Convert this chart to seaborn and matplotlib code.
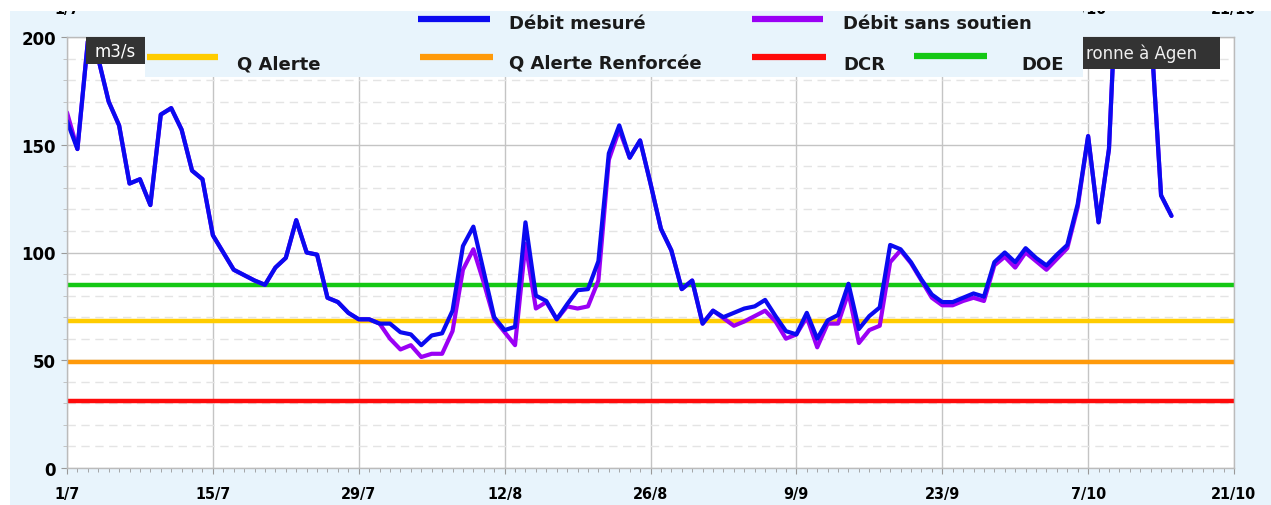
import numpy as np
import pandas as pd
import matplotlib
matplotlib.use("Agg")
import matplotlib.pyplot as plt
from matplotlib.patches import Rectangle
from matplotlib.lines import Line2D
from matplotlib.ticker import MultipleLocator
import matplotlib.dates as mdates
import seaborn as sns

# Débits journaliers de la Garonne à Agen (m3/s), du 1/7 au 15/10
debit_mesure = [161, 148, 198, 190, 170, 159, 132, 134, 122, 164,
                167, 157, 138, 134, 108, 100, 92, 89.5, 87, 85,
                93, 97.5, 115, 100, 99, 79, 77, 72, 69, 69,
                67, 67, 63, 62, 57, 61.5, 62.5, 73, 103, 112,
                91, 70, 64, 65.5, 114, 80, 77.5, 69, 76, 82.5,
                83, 96, 146, 159, 144, 152, 132, 111, 101, 83,
                87, 67, 73, 70, 72, 74, 75, 78, 70.5, 63.5,
                62, 72, 60, 68.5, 71, 85.5, 64.5, 70.5, 74.5, 103.5,
                101.5, 95.5, 87.5, 80.5, 77, 77, 79, 81, 79.5, 95.5,
                100, 95.5, 102, 97.5, 94, 99, 103.5, 122.5, 154, 114,
                148, 255, 270, 260, 205, 126.5, 117]

debit_sans_soutien = [165, 148, 198, 190, 170, 159, 132, 134, 122, 164,
                      167, 157, 138, 134, 108, 100, 92, 89.5, 87, 85,
                      93, 97.5, 115, 100, 99, 79, 77, 72, 69, 69,
                      67, 60, 55, 57, 51.5, 53, 53, 63.5, 92, 101.5,
                      86, 69, 63, 57, 104, 74, 77, 69, 75, 74,
                      75, 87, 143, 157, 144, 152, 132, 111, 101, 83,
                      87, 67, 73, 69.5, 66, 68, 70.5, 73, 68, 60,
                      62, 70, 56, 67, 67, 81.5, 58, 64, 66, 95.5,
                      101, 95, 87, 79, 75.5, 75.5, 77.5, 79, 77.5, 94,
                      98, 93, 100, 96, 92, 97, 102, 121, 154, 114,
                      148, 255, 270, 260, 205, 126.5, 117]

seuil_noms = ["DOE", "Q Alerte", "Q Alerte Renforcée", "DCR"]
seuil_valeurs = [85, 68, 49, 31]

tick_labels = ["1/7", "15/7", "29/7", "12/8", "26/8", "9/9", "23/9", "7/10", "21/10"]
y_ticks = [0, 50, 100, 150, 200]
# dates du haut qui dépassent de la légende (les autres sont cachées)
top_idx = [0, 7, 8]

# couleurs
BLEU = "#0a0af0"
VIOLET = "#9a00f5"
couleurs_seuils = {"DOE": "#14c814", "Q Alerte": "#ffcc00",
                   "Q Alerte Renforcée": "#ff9a0a", "DCR": "#ff0a0a"}
FOND = "#e8f4fc"

dates = pd.date_range("2022-07-01", periods=len(debit_mesure), freq="D")
df = pd.DataFrame({"date": dates, "mesure": debit_mesure, "sans": debit_sans_soutien})
tick_dates = pd.date_range("2022-07-01", "2022-10-21", freq="14D")

sns.set_style("white")
plt.rcParams["font.family"] = ["DejaVu Sans"]

W, H = 1271, 506
fig = plt.figure(figsize=(W / 100, H / 100), dpi=100)
fig.patch.set_facecolor("white")

# fond bleu clair du graphique
fig.add_artist(Rectangle((10 / W, 0), 1 - 10 / W, (H - 12) / H, transform=fig.transFigure,
                         facecolor=FOND, edgecolor="none", zorder=-5))

ax = fig.add_axes([67 / W, (H - 469) / H, (1234 - 67) / W, (469 - 38) / H])
ax.set_facecolor("white")
ax.set_axisbelow(True)

# seuils
for nom, val in zip(seuil_noms, seuil_valeurs):
    ax.axhline(val, color=couleurs_seuils[nom], lw=3.2, zorder=1.5)

# courbes de débit
sns.lineplot(data=df, x="date", y="sans", color=VIOLET, lw=3, ax=ax, zorder=2)
sns.lineplot(data=df, x="date", y="mesure", color=BLEU, lw=3, ax=ax, zorder=2.5)

ax.set_xlim(tick_dates[0], tick_dates[-1])
ax.set_ylim(0, 200)
ax.set_xlabel("")
ax.set_ylabel("")

ax.set_xticks(tick_dates)
ax.set_xticklabels(tick_labels, fontweight="bold", fontstretch="condensed", fontsize=11.5)
ax.xaxis.set_minor_locator(mdates.DayLocator())
ax.set_yticks(y_ticks)
ax.set_yticklabels([str(v) for v in y_ticks], fontweight="bold", fontsize=12)
ax.yaxis.set_minor_locator(MultipleLocator(10))

ax.grid(which="major", color="#c4c4c4", lw=1, ls="-")
ax.grid(which="minor", axis="y", color="#e4e4e4", lw=1, ls=(0, (6, 4)))

ax.tick_params(axis="x", which="major", bottom=True, top=False,
               length=4, color="#999999", pad=9, labelcolor="black")
ax.tick_params(axis="x", which="minor", bottom=True, top=False, length=3, color="#999999")
ax.tick_params(axis="y", which="major", left=True, length=4, color="#999999", pad=4,
               labelcolor="black")
ax.tick_params(axis="y", which="minor", left=True, length=3, color="#bbbbbb")
for sp in ax.spines.values():
    sp.set_color("#bbbbbb")
    sp.set_linewidth(1)

# dates en haut, à moitié coupées par le bord blanc
for i in top_idx:
    ax.text(tick_dates[i], (469 - 17) / (469 - 38), tick_labels[i], transform=ax.get_xaxis_transform(),
            ha="center", va="bottom", fontsize=11.5, fontweight="bold", fontstretch="condensed",
            color="black", clip_on=False)

# étiquettes sombres
fig.add_artist(Rectangle((86 / W, 1 - 65 / H), (145 - 86) / W, 27 / H, transform=fig.transFigure,
                         facecolor="#333333", edgecolor="none", zorder=4))
fig.text(115 / W, 1 - 51.5 / H, "m3/s", color="white", fontsize=12,
         ha="center", va="center", zorder=4.5)
fig.add_artist(Rectangle((1083 / W, 1 - 70 / H), (1220 - 1083) / W, 32 / H, transform=fig.transFigure,
                         facecolor="#333333", edgecolor="none", zorder=4))
fig.text(1086 / W, 1 - 54 / H, "ronne à Agen", color="#f0f0f0", fontsize=12,
         ha="left", va="center", zorder=4.5)

# légende dessinée à la main
fig.add_artist(Rectangle((145 / W, 1 - 78 / H), (1083 - 145) / W, 68 / H, transform=fig.transFigure,
                         facecolor=FOND, edgecolor="none", zorder=5))
legende = [
    (418, 490, 20, 509, 24, "Débit mesuré", BLEU),
    (752, 823, 20, 843, 24, "Débit sans soutien", VIOLET),
    (147, 218, 58, 237, 65, "Q Alerte", couleurs_seuils["Q Alerte"]),
    (420, 493, 58, 509, 65, "Q Alerte Renforcée", couleurs_seuils["Q Alerte Renforcée"]),
    (752, 826, 58, 843, 65, "DCR", couleurs_seuils["DCR"]),
    (914, 987, 57, 1021, 65, "DOE", couleurs_seuils["DOE"]),
]
for x0, x1, yl, xt, yt, txt, c in legende:
    fig.add_artist(Line2D([x0 / W, x1 / W], [1 - yl / H, 1 - yl / H], transform=fig.transFigure,
                          color=c, lw=4.5, solid_capstyle="butt", zorder=6))
    fig.text(xt / W, 1 - yt / H, txt, fontsize=13, fontweight="bold", color="#1a1a1a",
             ha="left", va="center", zorder=6)

# bande blanche en haut (coupe les dates du haut)
fig.add_artist(Rectangle((0, 1 - 12 / H), 1, 12 / H, transform=fig.transFigure,
                         facecolor="white", edgecolor="none", zorder=7))

fig.savefig("out.png", dpi=100)
